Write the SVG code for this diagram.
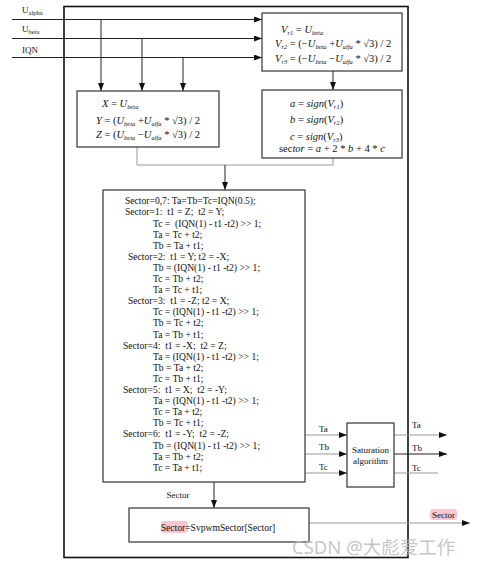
<svg xmlns="http://www.w3.org/2000/svg" width="478" height="564" viewBox="0 0 478 564">
<style>
.box{fill:#fff;stroke:#333;stroke-width:1.2}
.t{font-family:"Liberation Serif","Times New Roman",serif;font-size:9.6px;fill:#111;white-space:pre}
.m{font-family:"Liberation Serif","Times New Roman",serif;font-size:10.5px;fill:#111;font-style:italic;white-space:pre}
.n{font-style:normal}
.s{font-size:6.5px}
.lbl{font-family:"Liberation Serif","Times New Roman",serif;font-size:9px;fill:#111}
.ln{fill:none;stroke:#222;stroke-width:1}
.gr{fill:none;stroke:#999;stroke-width:1}
</style>
<defs>
<marker id="ar" markerWidth="8" markerHeight="6" refX="8" refY="3" orient="auto" markerUnits="userSpaceOnUse">
<path d="M0,0 L8,3 L0,6 z" fill="#111"/>
</marker>
</defs>
<rect width="478" height="564" fill="#fff"/>
<rect id="frame" x="64" y="6.5" width="344" height="551" fill="none" stroke="#111" stroke-width="1.6"/>

<g id="inputs">
<text class="lbl" x="22" y="13" font-size="10">U<tspan class="s" dy="2">alpha</tspan></text>
<text class="lbl" x="22" y="32" font-size="10">U<tspan class="s" dy="2">beta</tspan></text>
<text class="lbl" x="22" y="53" font-size="10">IQN</text>
</g>

<g id="connectors">
<path class="ln" d="M12 19.5 H262" marker-end="url(#ar)"/>
<path class="ln" d="M12 38.5 H262" marker-end="url(#ar)"/>
<path class="ln" d="M12 57.5 H262" marker-end="url(#ar)"/>
<path class="ln" d="M101 19.5 V91" marker-end="url(#ar)"/>
<path class="ln" d="M142 38.5 V91" marker-end="url(#ar)"/>
<path class="ln" d="M183 57.5 V91" marker-end="url(#ar)"/>
<path class="ln" d="M333 71 V90" marker-end="url(#ar)"/>
<path class="gr" d="M137 147 V165 H333 V158"/>
<path class="ln" d="M225 165 V190" marker-end="url(#ar)"/>
<path class="gr" d="M305 435 H347" marker-end="url(#ar)"/>
<path class="gr" d="M305 454 H347" marker-end="url(#ar)"/>
<path class="gr" d="M305 473 H347" marker-end="url(#ar)"/>
<path class="gr" d="M394 435 H447" marker-end="url(#ar)"/>
<path class="ln" d="M394 454 H447" marker-end="url(#ar)"/>
<path class="gr" d="M394 473 H438"/>
<path class="ln" d="M214 482 V508" marker-end="url(#ar)"/>
<path class="gr" d="M309 523 H470" marker-end="url(#ar)"/>
<text class="lbl" x="319" y="432">Ta</text>
<text class="lbl" x="319" y="450">Tb</text>
<text class="lbl" x="319" y="470">Tc</text>
<text class="lbl" x="412" y="428">Ta</text>
<text class="lbl" x="412" y="451">Tb</text>
<text class="lbl" x="412" y="471">Tc</text>
<text class="lbl" x="178" y="498" text-anchor="middle">Sector</text>
<rect x="430" y="509" width="27" height="11" rx="3" fill="#f7c6cf"/>
<text class="lbl" x="443.5" y="517.5" text-anchor="middle" font-size="8.5">Sector</text>
</g>

<g id="vr">
<rect class="box" x="262" y="13" width="140" height="58"/>
<text class="m" x="281" y="32.5">V<tspan class="s" dy="2">r1</tspan><tspan class="n" dy="-2"> = </tspan>U<tspan class="s" dy="2">beta</tspan></text>
<text class="m" x="275" y="46.5">V<tspan class="s" dy="2">r2</tspan><tspan class="n" dy="-2"> = (−</tspan>U<tspan class="s" dy="2">beta</tspan><tspan class="n" dy="-2"> +</tspan>U<tspan class="s" dy="2">alfa</tspan><tspan class="n" dy="-2"> * √3) / 2</tspan></text>
<text class="m" x="275" y="61.5">V<tspan class="s" dy="2">r3</tspan><tspan class="n" dy="-2"> = (−</tspan>U<tspan class="s" dy="2">beta</tspan><tspan class="n" dy="-2"> −</tspan>U<tspan class="s" dy="2">alfa</tspan><tspan class="n" dy="-2"> * √3) / 2</tspan></text>
</g>

<g id="xyz">
<rect class="box" x="77" y="91" width="142" height="56"/>
<text class="m" x="102" y="106.5">X<tspan class="n"> = </tspan>U<tspan class="s" dy="2">beta</tspan></text>
<text class="m" x="96" y="123.5">Y<tspan class="n"> = (</tspan>U<tspan class="s" dy="2">beta</tspan><tspan class="n" dy="-2"> +</tspan>U<tspan class="s" dy="2">alfa</tspan><tspan class="n" dy="-2"> * √3) / 2</tspan></text>
<text class="m" x="96" y="137.5">Z<tspan class="n"> = (</tspan>U<tspan class="s" dy="2">beta</tspan><tspan class="n" dy="-2"> −</tspan>U<tspan class="s" dy="2">alfa</tspan><tspan class="n" dy="-2"> * √3) / 2</tspan></text>
</g>

<g id="sign">
<rect class="box" x="262" y="90" width="140" height="68"/>
<text class="m" x="290" y="106.5">a<tspan class="n"> = </tspan>sign<tspan class="n">(</tspan>V<tspan class="s" dy="2">r1</tspan><tspan class="n" dy="-2">)</tspan></text>
<text class="m" x="290" y="122.5">b<tspan class="n"> = </tspan>sign<tspan class="n">(</tspan>V<tspan class="s" dy="2">r2</tspan><tspan class="n" dy="-2">)</tspan></text>
<text class="m" x="290" y="139.5">c<tspan class="n"> = </tspan>sign<tspan class="n">(</tspan>V<tspan class="s" dy="2">r3</tspan><tspan class="n" dy="-2">)</tspan></text>
<text class="m" x="279" y="152"><tspan class="n">sec</tspan>tor<tspan class="n"> = </tspan>a<tspan class="n"> + 2 * </tspan>b<tspan class="n"> + 4 * </tspan>c</text>
</g>

<g id="main">
<rect class="box" x="103" y="190" width="202" height="292"/>
<text class="t" x="125" y="204.3">Sector=0,7: Ta=Tb=Tc=IQN(0.5);</text>
<text class="t" x="125" y="215.4">Sector=1:  t1 = Z;  t2 = Y;</text>
<text class="t" x="153" y="226.5">Tc =  (IQN(1) - t1 -t2) &gt;&gt; 1;</text>
<text class="t" x="153" y="237.6">Ta = Tc + t2;</text>
<text class="t" x="153" y="248.7">Tb = Ta + t1;</text>
<text class="t" x="128" y="259.8">Sector=2:  t1 = Y; t2 = -X;</text>
<text class="t" x="153" y="270.9">Tb = (IQN(1) - t1 -t2) &gt;&gt; 1;</text>
<text class="t" x="153" y="282">Tc = Tb + t2;</text>
<text class="t" x="153" y="293.1">Ta = Tc + t1;</text>
<text class="t" x="128" y="304.2">Sector=3:  t1 = -Z; t2 = X;</text>
<text class="t" x="153" y="315.3">Tc = (IQN(1) - t1 -t2) &gt;&gt; 1;</text>
<text class="t" x="153" y="326.4">Tb = Tc + t2;</text>
<text class="t" x="153" y="337.5">Ta = Tb + t1;</text>
<text class="t" x="123" y="348.6">Sector=4:  t1 = -X;  t2 = Z;</text>
<text class="t" x="153" y="359.7">Ta = (IQN(1) - t1 -t2) &gt;&gt; 1;</text>
<text class="t" x="153" y="370.8">Tb = Ta + t2;</text>
<text class="t" x="153" y="381.9">Tc = Tb + t1;</text>
<text class="t" x="123" y="393">Sector=5:  t1 = X;  t2 = -Y;</text>
<text class="t" x="153" y="404.1">Ta = (IQN(1) - t1 -t2) &gt;&gt; 1;</text>
<text class="t" x="153" y="415.2">Tc = Ta + t2;</text>
<text class="t" x="153" y="426.3">Tb = Tc + t1;</text>
<text class="t" x="123" y="437.4">Sector=6:  t1 = -Y;  t2 = -Z;</text>
<text class="t" x="153" y="448.5">Tb = (IQN(1) - t1 -t2) &gt;&gt; 1;</text>
<text class="t" x="153" y="459.6">Ta = Tb + t2;</text>
<text class="t" x="153" y="470.7">Tc = Ta + t1;</text>
</g>

<g id="saturation">
<rect class="box" x="347" y="423" width="47" height="64"/>
<text class="lbl" x="370.5" y="453" text-anchor="middle" font-size="8.5">Saturation</text>
<text class="lbl" x="370.5" y="464" text-anchor="middle" font-size="8.5">algorithm</text>
</g>

<g id="svpwm">
<rect class="box" x="129" y="508" width="180" height="34"/>
<rect x="161" y="521" width="27" height="12" rx="3" fill="#f7c6cf"/>
<text class="t" x="218" y="530.5" text-anchor="middle" font-size="9.5">Sector=SvpwmSector[Sector]</text>
</g>

<text x="292" y="554" font-family="'Noto Sans','Noto Sans CJK SC',sans-serif" font-size="18.5" fill="#bbb" fill-opacity="0.85">CSDN @大彪爱工作</text>
</svg>
